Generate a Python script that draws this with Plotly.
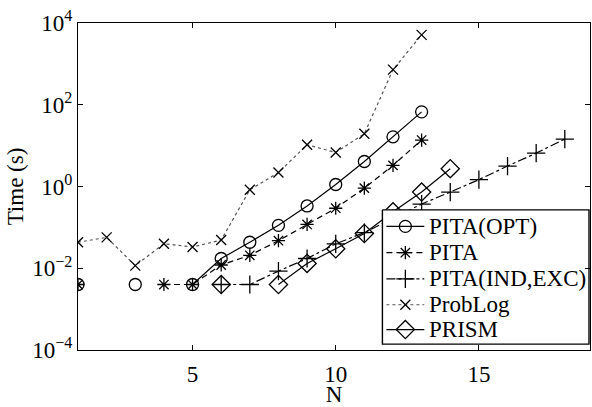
import plotly.graph_objects as go

N = list(range(1, 19))

pita_opt = [0.004, None, 0.004, None, 0.004, 0.0173, 0.0433, 0.112, 0.334, 1.12, 4.09, 16.4, 67.0,
            None, None, None, None, None]
pita = [0.004, None, None, 0.004, 0.004, 0.0120, 0.0207, 0.0472, 0.118, 0.294, 0.912, 3.29, 13.7,
        None, None, None, None, None]
pita_ind_exc = [None, None, None, None, None, 0.004, 0.004, 0.0085, 0.0173, 0.0394, 0.0748, 0.166,
                0.372, 0.731, 1.47, 3.16, 6.56, 14.5]
problog = [0.0433, 0.0569, 0.0116, 0.0398, 0.0331, 0.049, 0.83, 2.19, 10.5, 6.8, 19.5, 724, 5130,
           None, None, None, None, None]
prism = [None, None, None, None, None, 0.004, None, 0.004, 0.0131, 0.0299, 0.0708, 0.24, 0.731, 2.73,
         None, None, None, None]

series_names = ["PITA(OPT)", "PITA", "PITA(IND,EXC)", "ProbLog", "PRISM"]
x_ticks = [5, 10, 15]
y_tickvals = [1e-4, 1e-2, 1, 1e2, 1e4]
y_ticktext = ["10<sup>\u22124</sup>", "10<sup>\u22122</sup>", "10<sup>0</sup>", "10<sup>2</sup>", "10<sup>4</sup>"]

FONT = "Liberation Serif"
FS = 23

W, H = 592, 407
ML, MR, MT, MB = 78, 1, 23, 48
PW, PH = W - ML - MR, H - MT - MB


def px_x(p):
    return (p - ML) / PW


def px_y(p):
    return (H - MB - p) / PH


styles = [
    dict(dash="solid", symbol="circle-open", size=12, color="black"),
    dict(dash="6px,4px", symbol="asterisk-open", size=11, color="black"),
    dict(dash="dashdot", symbol="cross-thin-open", size=13, color="black"),
    dict(dash="dot", symbol="x-thin-open", size=10, color="#555555"),
    dict(dash="solid", symbol="diamond-open", size=14, color="black"),
]
data = [pita_opt, pita, pita_ind_exc, problog, prism]

fig = go.Figure()
for name, ys, st in zip(series_names, data, styles):
    fig.add_trace(go.Scatter(
        x=N, y=ys, name=name, mode="lines+markers", connectgaps=False, showlegend=False,
        line=dict(color=st["color"], width=1.2, dash=st["dash"]),
        marker=dict(symbol=st["symbol"], size=st["size"], color="black",
                    line=dict(color="black", width=1.3)),
    ))

# legend box drawn on an overlay subplot (paper-like coordinates)
bx0, bx1, by0, by1 = px_x(383), px_x(590), px_y(215), px_y(353)
fig.add_trace(go.Scatter(
    x=[bx0, bx1, bx1, bx0, bx0], y=[by0, by0, by1, by1, by0], xaxis="x2", yaxis="y2",
    mode="lines", fill="toself", fillcolor="white", line=dict(color="black", width=1.4),
    showlegend=False, hoverinfo="skip",
))
row_py = [232, 259, 286, 312.5, 338]
for name, st, py in zip(series_names, styles, row_py):
    yy = px_y(py)
    fig.add_trace(go.Scatter(
        x=[px_x(387), px_x(425)], y=[yy, yy], xaxis="x2", yaxis="y2", mode="lines",
        line=dict(color=st["color"], width=1.2, dash=st["dash"]),
        showlegend=False, hoverinfo="skip",
    ))
    fig.add_trace(go.Scatter(
        x=[px_x(406)], y=[yy], xaxis="x2", yaxis="y2", mode="markers",
        marker=dict(symbol=st["symbol"], size=st["size"], color="black",
                    line=dict(color="black", width=1.3)),
        showlegend=False, hoverinfo="skip",
    ))
    fig.add_annotation(
        x=px_x(428), y=yy, xref="paper", yref="paper", text=name, showarrow=False,
        xanchor="left", yanchor="middle", font=dict(family=FONT, size=FS, color="black"),
    )

fig.update_layout(
    width=W, height=H,
    margin=dict(l=ML, r=MR, t=MT, b=MB),
    paper_bgcolor="white", plot_bgcolor="white",
    font=dict(family=FONT, size=FS, color="black"),
    showlegend=False,
    xaxis2=dict(overlaying="x", range=[0, 1], visible=False),
    yaxis2=dict(overlaying="y", range=[0, 1], visible=False),
)
fig.layout.xaxis.update(
    range=[1, 18.88], tickvals=x_ticks, ticks="inside", ticklen=5, tickcolor="black",
    showline=True, linecolor="black", linewidth=1, mirror="ticks", showgrid=False, zeroline=False,
    title=dict(text="N", standoff=3, font=dict(family=FONT, size=FS)),
    tickfont=dict(family=FONT, size=FS), ticklabelstandoff=3,
)
fig.layout.yaxis.update(
    type="log", range=[-4, 4], tickvals=y_tickvals, ticktext=y_ticktext,
    ticks="inside", ticklen=5, tickcolor="black",
    showline=True, linecolor="black", linewidth=1, mirror="ticks", showgrid=False, zeroline=False,
    title=dict(text="Time (s)", standoff=2, font=dict(family=FONT, size=FS)),
    tickfont=dict(family=FONT, size=FS),
)

fig.write_html("out.html")
